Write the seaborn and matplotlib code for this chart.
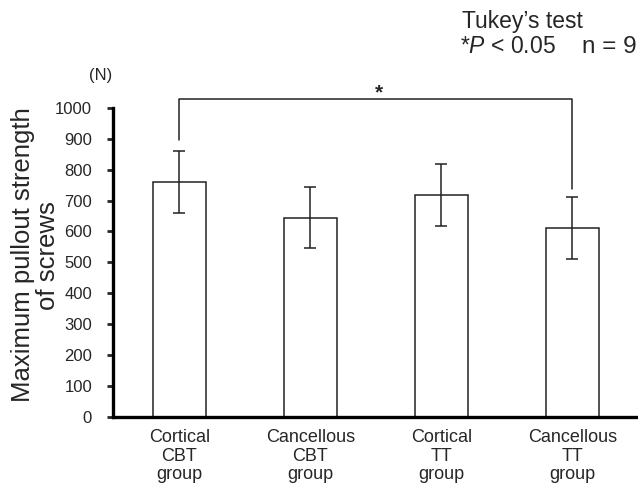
import matplotlib
matplotlib.use("Agg")
import matplotlib.pyplot as plt
import pandas as pd
import seaborn as sns

groups = ["Cortical\nCBT\ngroup", "Cancellous\nCBT\ngroup", "Cortical\nTT\ngroup", "Cancellous\nTT\ngroup"]
means = [760, 645, 718, 610]
sds = [100, 100, 100, 100]
yticks = list(range(0, 1001, 100))
bracket_pair = (0, 3)
bracket_top = 1030
bracket_feet = [895, 738]

sns.set_style("ticks")
plt.rcParams["font.family"] = ["Liberation Sans", "DejaVu Sans"]
plt.rcParams["mathtext.fontset"] = "custom"
plt.rcParams["mathtext.rm"] = "Liberation Sans"
plt.rcParams["mathtext.it"] = "Liberation Sans:italic"

df = pd.DataFrame({"group": groups, "mean": means, "sd": sds})

fig = plt.figure(figsize=(6.38, 4.84), dpi=100)
ax = fig.add_axes([0.177, 0.139, 0.823, 0.638])

sns.barplot(data=df, x="group", y="mean", color="white", edgecolor="#222222",
            linewidth=1.1, width=0.40, errorbar=None, ax=ax)
ax.errorbar(range(len(groups)), df["mean"], yerr=df["sd"], fmt="none",
            ecolor="#222222", elinewidth=1.1, capsize=4, capthick=1.1)

# significance bracket
x0, x1 = bracket_pair
ax.plot([x0, x0, x1, x1], [bracket_feet[0], bracket_top, bracket_top, bracket_feet[1]],
        color="#222222", lw=1.1, clip_on=False)
ax.text((x0 + x1) / 2 + 0.02, bracket_top + 20, "*", ha="center", va="center",
        fontsize=15, fontweight="bold")

ax.set_xlim(-0.507, 3.5)
ax.set_ylim(0, 1000)
ax.set_yticks(yticks)
ax.set_xlabel("")
ax.set_ylabel("")
sns.despine(ax=ax)
for side in ["left", "bottom"]:
    ax.spines[side].set_linewidth(2.4)
    ax.spines[side].set_color("black")
ax.tick_params(axis="y", length=4, width=2, labelsize=12, pad=11)
ax.tick_params(axis="x", length=0, labelsize=13, pad=9)
for lbl in ax.get_xticklabels():
    lbl.set_linespacing(1.1)

fig.text(0.055, 0.473, "Maximum pullout strength\nof screws", rotation=90,
         ha="center", va="center", fontsize=18.5, linespacing=1.05, multialignment="center")
fig.text(0.157, 0.845, "(N)", ha="center", va="center", fontsize=12)
fig.text(0.724, 0.955, "Tukey\u2019s test", ha="left", va="center", fontsize=16.5)
fig.text(0.721, 0.903, r"*$\mathit{P}$ < 0.05", ha="left", va="center", fontsize=16.5)
fig.text(0.912, 0.903, "n = 9", ha="left", va="center", fontsize=17.5)

fig.savefig("out.png", dpi=100)
